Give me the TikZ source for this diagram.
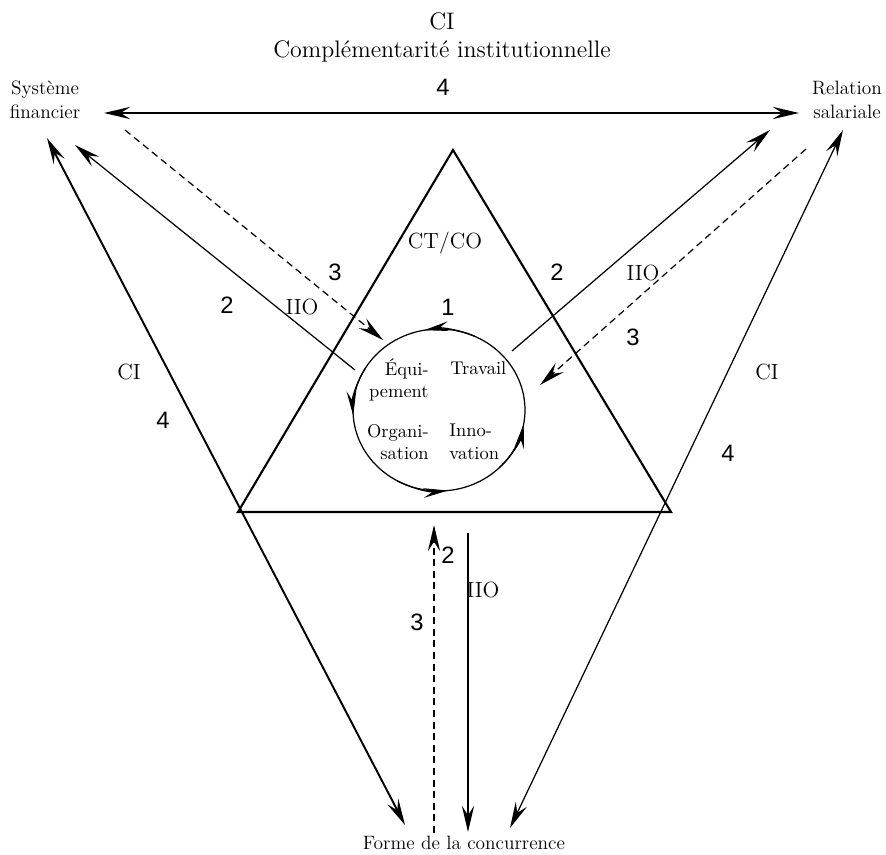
\documentclass[tikz,border=0pt]{standalone}
\usepackage{fontspec}
\newfontfamily\numfont{Liberation Sans}
\usetikzlibrary{arrows.meta,shapes.geometric,calc}
\tikzset{
  title/.style={font=\fontsize{13.6}{15}\selectfont,inner sep=0pt},
  pole/.style={align=center,font=\fontsize{11}{13.5}\selectfont,inner sep=0pt},
  lab/.style={font=\fontsize{12.5}{15}\selectfont,inner sep=0pt},
  num/.style={font=\numfont\fontsize{13.5}{16}\selectfont,inner sep=0pt},
  inner/.style={font=\fontsize{10.5}{12.8}\selectfont,inner sep=0pt},
  frame/.style={line width=1.2pt},
  heavy/.style={line width=1.1pt},
  flow/.style={line width=0.7pt},
  back/.style={line width=0.7pt,dash pattern=on 4pt off 2.6pt}
}

\begin{document}
\begin{tikzpicture}[x=0.02cm,y=-0.02cm,
    >={Stealth[length=15pt,width=7pt,inset=5.5pt]}]
  \useasboundingbox (0,0) rectangle (886,855);
  % titre et poles
  \node[title] (ci) at (442,21) {CI};
  \node[title] (cit) at (442,51) {Complémentarité institutionnelle};
  \node[pole] (sf) at (45,100) {Système\\financier};
  \node[pole] (rs) at (847,100) {Relation\\salariale};
  \node[pole] (fc) at (464,843) {Forme de la concurrence};

  % triangle CT/CO
  \coordinate (tA) at (453,150);
  \coordinate (tB) at (238,512);
  \coordinate (tC) at (671,512);
  \draw[frame] (tA) -- (tB) -- (tC) -- cycle;
  \node[lab] (ctco) at (445,243) {CT/CO};

  % cercle interne
  \node[draw,ellipse,line width=0.7pt,minimum width=3.44cm,minimum height=3.24cm,
    inner sep=0pt] (cyc) at (439,410) {};
  \foreach \a in {260,176,84,10}{
    \draw[line width=0.7pt,->,>={Stealth[length=14pt,width=5.5pt,inset=5pt]}]
      ($(cyc.center)+(\a+35:86 and 81)$)
      arc[start angle=\a+35,end angle=\a,x radius=86,y radius=81];
  }
  \node[num] (n1) at (448,307) {1};
  \node[inner,align=right,anchor=east] (equ) at (429,380) {Équi-\\pement};
  \node[inner,anchor=west] (tra) at (450,368) {Travail};
  \node[inner,align=right,anchor=east] (org) at (429,442) {Organi-\\sation};
  \node[inner,align=left,anchor=west] (inn) at (449,442) {Inno-\\vation};

  % extremites des liaisons
  \coordinate (sfH) at (104,113);
  \coordinate (rsH) at (799,113);
  \coordinate (sfC) at (47,138);
  \coordinate (fcL) at (405,825);
  \coordinate (rsC) at (843,130);
  \coordinate (fcR) at (510,828);
  \coordinate (sfI) at (75,145);
  \coordinate (cycL) at (355,370);
  \coordinate (sfD) at (125,130);
  \coordinate (cycD) at (383,340);
  \coordinate (rsI) at (770,130);
  \coordinate (cycR) at (512,351);
  \coordinate (rsD) at (806,149);
  \coordinate (cycE) at (540,385);
  \coordinate (fcD) at (434,833);
  \coordinate (triD) at (434,525);
  \coordinate (triI) at (468,533);
  \coordinate (fcI) at (468,832);

  % niveau 4 : CI
  \draw[heavy,<->] (sfH) -- (rsH);
  \node[num] (n4a) at (443,87) {4};
  \draw[heavy,<->] (sfC) -- (fcL);
  \node[lab] (cil) at (129,372) {CI};
  \node[num] (n4b) at (163,420) {4};
  \draw[flow,<->] (rsC) -- (fcR);
  \node[lab] (cir) at (767,372) {CI};
  \node[num] (n4c) at (728,453) {4};

  % niveau 2 : IIO
  \draw[flow,->] (cycL) -- (sfI);
  \node[num] (n2a) at (227,305) {2};
  \node[lab] (iioa) at (302,307) {IIO};
  \draw[flow,->] (cycR) -- (rsI);
  \node[num] (n2b) at (557,272) {2};
  \node[lab] (iiob) at (643,273) {IIO};
  \draw[flow,->] (triI) -- (fcI);
  \node[num] (n2c) at (448,555) {2};
  \node[lab] (iioc) at (483,590) {IIO};

  % niveau 3 : retours
  \draw[back,->] (sfD) -- (cycD);
  \node[num] (n3a) at (335,272) {3};
  \draw[back,->] (rsD) -- (cycE);
  \node[num] (n3b) at (633,337) {3};
  \draw[back,->] (fcD) -- (triD);
  \node[num] (n3c) at (417,622) {3};
\end{tikzpicture}
\end{document}
